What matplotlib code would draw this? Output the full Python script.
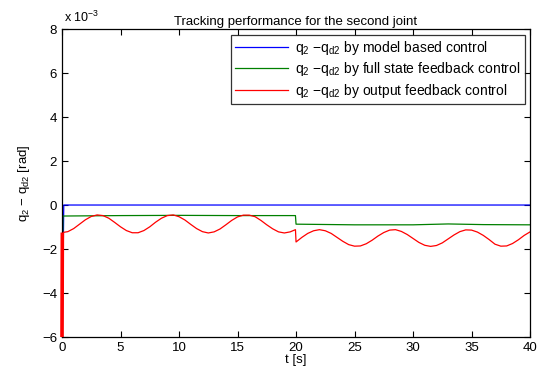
import matplotlib
matplotlib.use("Agg")
from matplotlib import pyplot as plt

plt.rcParams['font.family'] = ['Liberation Sans', 'DejaVu Sans']
plt.rcParams['mathtext.default'] = 'regular'

# tracking error of joint 2, in units of 1e-3 rad
t_model = [0.0, 0.15, 40.0]
e_model = [-7.0, 0.0, 0.0]

t_full = [0.0, 0.08, 5.0, 10.0, 15.0, 19.95, 20.0, 25.0, 30.0, 33.0, 36.0, 40.0]
e_full = [-7.0, -0.50, -0.48, -0.47, -0.48, -0.48, -0.87, -0.90, -0.90, -0.86, -0.89, -0.90]

t_out = [0.0, 0.03, 0.5, 1.0, 1.5, 2.0, 2.5, 3.0, 3.5, 4.0, 4.5, 5.0, 5.5, 6.0, 6.5,
         7.0, 7.5, 8.0, 8.5, 9.0, 9.5, 10.0, 10.5, 11.0, 11.5, 12.0, 12.5, 13.0,
         13.5, 14.0, 14.5, 15.0, 15.5, 16.0, 16.5, 17.0, 17.5, 18.0, 18.5, 19.0,
         19.5, 19.95, 20.0, 20.5, 21.0, 21.5, 22.0, 22.5, 23.0, 23.5, 24.0, 24.5,
         25.0, 25.5, 26.0, 26.5, 27.0, 27.5, 28.0, 28.5, 29.0, 29.5, 30.0, 30.5,
         31.0, 31.5, 32.0, 32.5, 33.0, 33.5, 34.0, 34.5, 35.0, 35.5, 36.0, 36.5,
         37.0, 37.5, 38.0, 38.5, 39.0, 39.5, 40.0]
e_out = [-6.0, -1.25, -1.21, -1.07, -0.87, -0.67, -0.52, -0.45, -0.48, -0.60, -0.79,
         -0.99, -1.16, -1.26, -1.26, -1.16, -0.99, -0.78, -0.60, -0.48, -0.45,
         -0.53, -0.68, -0.88, -1.07, -1.21, -1.27, -1.22, -1.09, -0.90, -0.70,
         -0.54, -0.46, -0.46, -0.53, -0.70, -0.90, -1.08, -1.22, -1.27, -1.22,
         -1.12, -1.68, -1.47, -1.29, -1.17, -1.12, -1.17, -1.29, -1.47, -1.65,
         -1.80, -1.87, -1.86, -1.76, -1.60, -1.41, -1.25, -1.14, -1.12, -1.20,
         -1.34, -1.52, -1.70, -1.83, -1.88, -1.84, -1.72, -1.54, -1.36, -1.21,
         -1.13, -1.14, -1.23, -1.38, -1.57, -1.78, -1.87, -1.86, -1.75, -1.58,
         -1.38, -1.22]

x_ticks = [0, 5, 10, 15, 20, 25, 30, 35, 40]
y_ticks = [-6, -4, -2, 0, 2, 4, 6, 8]

fig = plt.figure(figsize=(5.42, 3.72), dpi=100)
ax = fig.add_axes([0.1144, 0.094, 0.8636, 0.828])

lab = r'q$_2$ $-$q$_{d2}$'
ax.plot(t_model, e_model, color='#0000ff', lw=0.9, label=lab + ' by model based control')
ax.plot(t_full, e_full, color='#008000', lw=0.9, label=lab + ' by full state feedback control')
ax.plot(t_out, e_out, color='#ff0000', lw=0.9, label=lab + ' by output feedback control')
# fast initial transient of the output feedback loop
ax.plot(t_out[:2], e_out[:2], color='#ff0000', lw=2.6, clip_on=False, zorder=3,
        solid_capstyle='butt')

ax.set_xlim(0, 40)
ax.set_ylim(-6, 8)
ax.set_xticks(x_ticks)
ax.set_yticks(y_ticks)
ax.tick_params(direction='in', top=True, right=True, labelsize=9.5, length=4, width=0.8)
for s in ax.spines.values():
    s.set_linewidth(0.9)

ax.set_title('Tracking performance for the second joint', fontsize=9.5, pad=3)
ax.set_xlabel('t [s]', fontsize=9.5, labelpad=0)
ax.set_ylabel(r'q$_2$ $-$ q$_{d2}$ [rad]', fontsize=9.5, labelpad=7)
ax.text(0.005, 1.012, r'x 10$^{-3}$', transform=ax.transAxes, fontsize=9, va='bottom', ha='left')

leg = ax.legend(loc='upper right', fontsize=10, frameon=True, fancybox=False,
                edgecolor='black', borderaxespad=0.4, handlelength=3.8,
                labelspacing=0.25, borderpad=0.3, handletextpad=0.5)
leg.get_frame().set_linewidth(0.9)

fig.savefig('out.png', dpi=100)
